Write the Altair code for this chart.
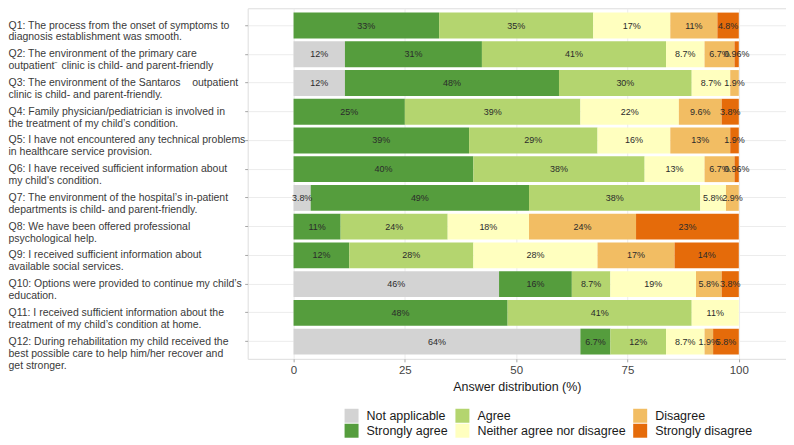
import altair as alt
import pandas as pd

questions = [
    "Q1: The process from the onset of symptoms to\ndiagnosis establishment was smooth.",
    "Q2: The environment of the primary care\noutpatient\u207b clinic is child- and parent-friendly",
    "Q3: The environment of the Santaros\u00a0\u00a0\u00a0 outpatient\nclinic is child- and parent-friendly.",
    "Q4: Family physician/pediatrician is involved in\nthe treatment of my child\u2019s condition.",
    "Q5: I have not encountered any technical problems\nin healthcare service provision.",
    "Q6: I have received sufficient information about\nmy child's condition.",
    "Q7: The environment of the hospital\u2019s in-patient\ndepartments is child- and parent-friendly.",
    "Q8: We have been offered professional\npsychological help.",
    "Q9: I received sufficient information about\navailable social services.",
    "Q10: Options were provided to continue my child\u2019s\neducation.",
    "Q11: I received sufficient information about the\ntreatment of my child\u2019s condition at home.",
    "Q12: During rehabilitation my child received the\nbest possible care to help him/her recover and\nget stronger.",
]

answers = ["Not applicable", "Strongly agree", "Agree",
           "Neither agree nor disagree", "Disagree", "Strongly disagree"]
colors = ["#d3d3d3", "#559d3d", "#b4d56f", "#ffffbf", "#f2bd63", "#e56b0a"]

# percentages per answer (in order of questions)
not_applicable = [0, 11.538, 11.538, 0, 0, 0, 3.846, 0, 0, 46.154, 0, 64.423]
strongly_agree = [32.692, 30.769, 48.077, 25.0, 39.423, 40.385, 49.038, 10.577, 12.5, 16.346, 48.077, 6.731]
agree = [34.615, 41.346, 29.808, 39.423, 28.846, 38.462, 38.462, 24.038, 27.885, 8.654, 41.346, 12.5]
neither = [17.308, 8.654, 8.654, 22.115, 16.346, 13.462, 5.769, 18.269, 27.885, 19.231, 10.577, 8.654]
disagree = [10.577, 6.731, 1.923, 9.615, 13.462, 6.731, 2.885, 24.038, 17.308, 5.769, 0, 1.923]
strongly_disagree = [4.808, 0.962, 0, 3.846, 1.923, 0.962, 0, 23.077, 14.423, 3.846, 0, 5.769]

series = [not_applicable, strongly_agree, agree, neither, disagree, strongly_disagree]

rows = []
for ai, (ans, vals) in enumerate(zip(answers, series)):
    for q, v in zip(questions, vals):
        if v > 0:
            rows.append({"question": q, "answer": ans, "order": ai, "pct": v,
                         "label": f"{v:.2g}%"})
df = pd.DataFrame(rows)

FONT = "Liberation Sans"

base = alt.Chart(df).transform_stack(
    stack="pct", groupby=["question"], sort=[alt.SortField("order")], as_=["x0", "x1"]
).transform_calculate(mid="(datum.x0 + datum.x1) / 2")

yenc = alt.Y("question:N", sort=questions, title=None,
             scale=alt.Scale(paddingInner=0.1, paddingOuter=0.15),
             axis=alt.Axis(labelAlign="left", labelPadding=237, tickSize=3,
                           labelLimit=0, labelExpr="split(datum.label, '\\n')",
                           labelLineHeight=12, labelFontSize=10.5, labelColor="#3a3a3a",
                           labelBaseline="middle", labelFont=FONT, domain=False,
                           tickColor="#a6a6a6", gridColor="#ececec", bandPosition=0.5,
                           grid=True))

xscale = alt.Scale(domain=[-10.3, 110.6], nice=False, zero=False)

bars = base.mark_bar(strokeWidth=0).encode(
    y=yenc,
    x=alt.X("x0:Q", scale=xscale, title="Answer distribution (%)",
            axis=alt.Axis(values=[0, 25, 50, 75, 100], tickSize=3, domain=False,
                          labelFontSize=11.5, labelColor="#444444", labelFont=FONT,
                          labelPadding=3, titleFont=FONT, titleFontSize=12.5,
                          titleFontWeight="normal", titleColor="#1a1a1a", titlePadding=4,
                          tickColor="#a6a6a6", gridColor="#ececec")),
    x2="x1:Q",
    color=alt.Color("answer:N",
                    scale=alt.Scale(domain=answers, range=colors),
                    legend=alt.Legend(title=None, orient="none", legendX=97, legendY=401,
                                      columns=3, symbolType="square", symbolSize=196,
                                      symbolStrokeWidth=0, symbolOpacity=1,
                                      labelFontSize=12.5, labelFont=FONT,
                                      labelColor="#1a1a1a", labelOffset=8,
                                      rowPadding=1, columnPadding=7, padding=0)),
)

texts = base.mark_text(fontSize=9, font=FONT, color="#2b2b2b").encode(
    y=alt.Y("question:N", sort=questions),
    x=alt.X("mid:Q", scale=xscale),
    text="label:N",
)

chart = alt.layer(bars, texts).properties(
    width=539, height=351,
    padding={"left": 0, "top": 0, "right": 0, "bottom": 0},
).configure_view(stroke="#a6a6a6", strokeWidth=1).configure(background="white")

chart.save("out.html", embed_options={"renderer": "svg", "actions": False})
